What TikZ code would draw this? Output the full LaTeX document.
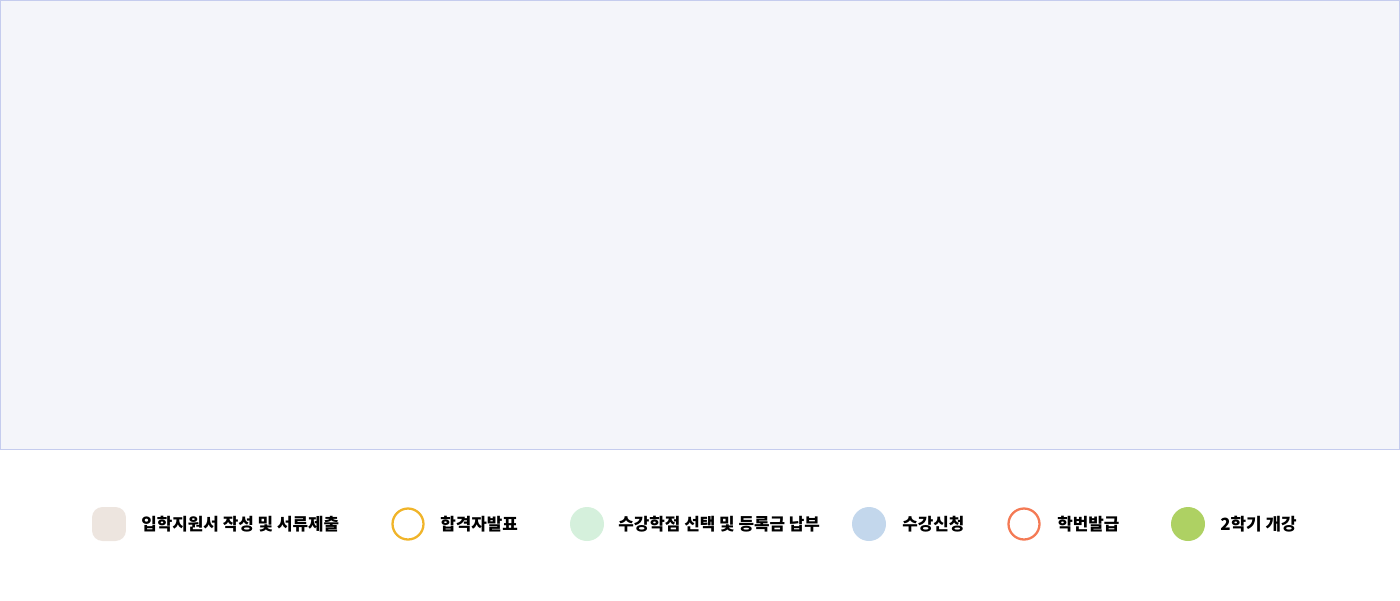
\documentclass[tikz,border=0pt]{standalone}
\usepackage{fontspec}
\newfontfamily\kr{Noto Sans CJK KR}
\usetikzlibrary{positioning}
\definecolor{panelbg}{HTML}{F4F5FA}
\definecolor{panelline}{HTML}{C5CCEE}
\definecolor{applyc}{HTML}{EDE5DF}
\definecolor{passc}{HTML}{F0B429}
\definecolor{payc}{HTML}{D5F0DC}
\definecolor{coursec}{HTML}{C3D7EC}
\definecolor{idc}{HTML}{F47A55}
\definecolor{openc}{HTML}{AED163}

\begin{document}
\begin{tikzpicture}[x=0.02cm, y=-0.02cm,
  dot/.style={circle, minimum size=0.68cm, inner sep=0pt},
  ring/.style={circle, draw, line width=1.3pt, minimum size=0.62cm, inner sep=0pt},
  label/.style={anchor=west, inner sep=0pt, font=\kr\bfseries\fontsize{9.6pt}{11pt}\selectfont}]

% Page and the empty calendar panel.

\useasboundingbox (0,0) rectangle (1400,600);
\draw[fill=panelbg, draw=panelline] (0.5,0.5) rectangle (1399.5,449.5);

% Legend of the admission schedule.

\node[dot, rectangle, rounded corners=6pt, fill=applyc] (apply) at (109,524) {};
\node[label] (applyt) at (141,524) {입학지원서 작성 및 서류제출};

\node[ring, draw=passc] (pass) at (408,524) {};
\node[label] (passt) at (440,524) {합격자발표};

\node[dot, fill=payc] (pay) at (587,524) {};
\node[label] (payt) at (618,524) {수강학점 선택 및 등록금 납부};

\node[dot, fill=coursec] (course) at (869,524) {};
\node[label] (courset) at (902,524) {수강신청};

\node[ring, draw=idc] (id) at (1024,524) {};
\node[label] (idt) at (1057,524) {학번발급};

\node[dot, fill=openc] (open) at (1188,524) {};
\node[label] (opent) at (1220,524) {2학기 개강};

\end{tikzpicture}
\end{document}
